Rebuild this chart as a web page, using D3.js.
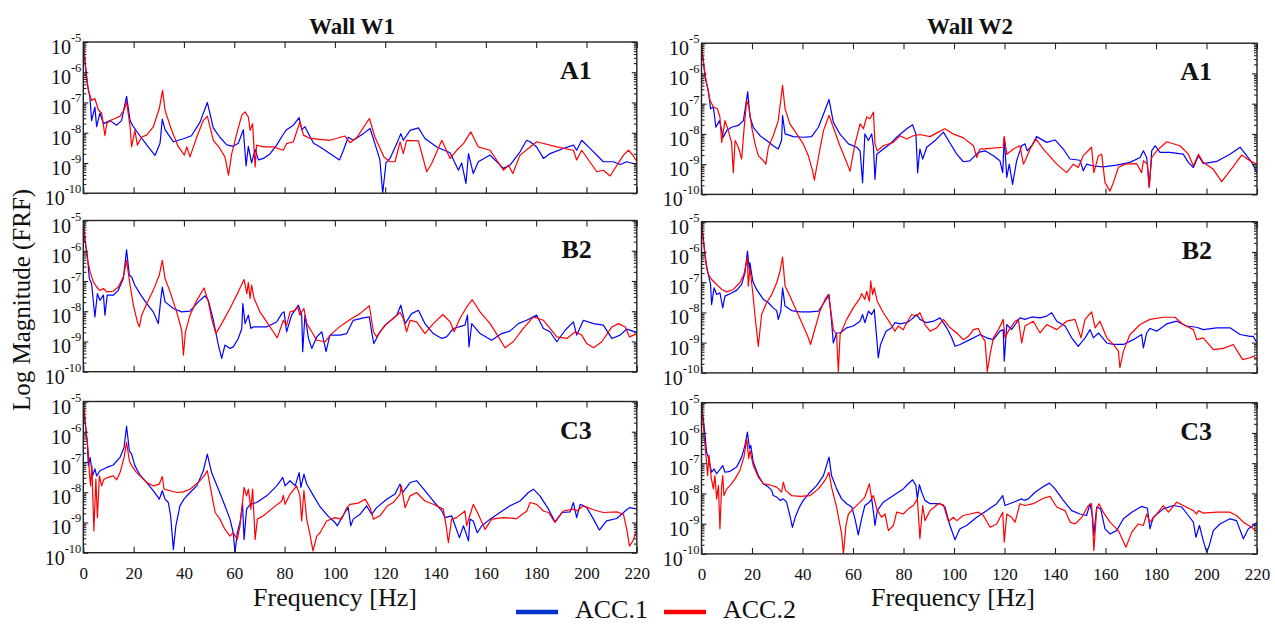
<!DOCTYPE html>
<html>
<head>
<meta charset="utf-8">
<script src="https://cdn.jsdelivr.net/npm/d3@7"></script>
<style>
  body { margin: 0; background: #fff; }
  text { font-family: "Liberation Serif", "Times New Roman", serif; fill: #111; }
</style>
</head>
<body>
<div id="chart"></div>
<script>
// ---- data : [frequency Hz, log10 |FRF|] ----
const walls = ['Wall W1', 'Wall W2'];
const points = ['A1', 'B2', 'C3'];
const seriesNames = ['ACC.1', 'ACC.2'];
const seriesColors = ['#0000ff', '#ff0000'];
const freqTicks = [0, 20, 40, 60, 80, 100, 120, 140, 160, 180, 200, 220];
const decades = [-10, -9, -8, -7, -6, -5];

const w1A1Acc1 = [[0,-5.05],[0.7,-5.7],[1.6,-6.4],[2.6,-6.8],[3.3,-7.6],[4.6,-7.15],[5.3,-7.8],[6.6,-7.35],[8,-7.7],[10.6,-7.6],[13.3,-7.75],[15.2,-7.6],[17.2,-6.8],[18.6,-7.6],[19.9,-7.8],[22.5,-8.1],[25.2,-8.4],[28.5,-8.75],[30.5,-8.35],[31.4,-7.55],[32.5,-7.9],[35.8,-8.3],[39.8,-8.2],[43,-8.1],[46.4,-7.65],[49.3,-7.0],[51.7,-7.85],[54.3,-8.15],[57,-8.4],[59.6,-8.45],[61.6,-8.35],[63.6,-7.9],[64.7,-9.1],[65.6,-8.45],[66.9,-9.0],[68.3,-8.55],[69.6,-8.9],[71.6,-8.85],[74.2,-8.7],[76.9,-8.4],[79.5,-8.05],[80.8,-7.9],[83.5,-7.75],[85.8,-7.5],[86.8,-7.9],[88.1,-7.8],[91.5,-8.35],[94.1,-8.47],[98,-8.69],[101.8,-8.9],[103.4,-8.58],[105.3,-8.15],[107.3,-8.25],[111.3,-8.03],[114,-7.86],[115.9,-8.36],[117.9,-8.9],[119,-10.0],[120.3,-9.0],[121.9,-8.85],[124.6,-8.36],[126.2,-8.03],[127.2,-8.25],[129.9,-7.92],[133.2,-7.84],[135.8,-8.19],[140.5,-8.47],[145.8,-8.66],[149.1,-9.24],[150.4,-9.0],[152.1,-9.68],[153.1,-8.69],[155,-9.35],[157,-8.96],[161.7,-8.74],[167,-9.18],[169.6,-9.07],[173.6,-8.63],[176.2,-8.25],[177.6,-8.3],[180.2,-8.47],[182.9,-8.85],[185.5,-8.69],[190.8,-8.52],[194.8,-8.41],[196.1,-8.58],[198.1,-8.25],[201.4,-8.52],[206.7,-8.96],[210.7,-8.96],[213.4,-9.05],[216,-8.96],[220,-9.05]];
const w1A1Acc2 = [[0,-5.0],[1.1,-5.95],[2,-6.6],[3.3,-6.93],[4.6,-6.87],[6,-7.25],[7.3,-7.35],[8.6,-8.1],[9.3,-7.7],[10.6,-7.6],[12.6,-7.53],[14.6,-7.45],[16.2,-7.25],[17.2,-6.98],[18.6,-7.8],[19.2,-8.47],[20.5,-7.92],[21.5,-8.41],[23.2,-8.14],[25.2,-8.08],[27.8,-7.81],[30.2,-7.2],[31.5,-6.6],[32.5,-7.26],[35.1,-7.92],[37.8,-8.47],[40.2,-8.74],[41.1,-8.47],[42.4,-8.8],[45.1,-8.14],[47.7,-7.59],[49.3,-7.45],[51.7,-8.25],[54.3,-8.52],[56.3,-8.8],[57.7,-9.4],[59,-8.69],[61,-8.03],[63,-7.42],[64.3,-7.31],[65.6,-7.48],[66.3,-7.92],[67.3,-7.7],[68.3,-9.13],[68.9,-8.41],[71.6,-8.47],[75.5,-8.47],[79.5,-8.58],[80.8,-8.36],[83.5,-8.3],[86.1,-7.64],[87.5,-8.08],[90.1,-8.19],[98,-8.25],[104,-8.11],[106,-8.33],[108.7,-8.16],[113.7,-7.53],[115.9,-8.14],[119.5,-8.8],[121.9,-8.96],[123.9,-8.96],[125.9,-8.3],[127.2,-8.69],[128.5,-8.25],[133.2,-8.27],[136.5,-9.29],[138.5,-9.01],[142.5,-8.25],[145.8,-8.85],[148.4,-8.58],[151.1,-8.36],[154,-7.97],[157,-8.47],[161.7,-8.58],[167,-9.24],[169,-9.07],[170.7,-9.35],[173.6,-8.74],[177.6,-8.47],[180.2,-8.3],[188.2,-8.47],[194.8,-8.58],[196.1,-8.9],[198.1,-8.58],[204.1,-9.29],[206.7,-9.24],[209.4,-9.43],[214.7,-8.74],[216.7,-8.58],[218.5,-8.75],[220,-8.95]];

const w2A1Acc1 = [[0,-5.22],[0.7,-5.56],[1.4,-6.11],[2.7,-6.56],[3.6,-7.17],[4.7,-7.11],[5.7,-7.78],[7.1,-7.56],[8.6,-8.11],[10,-7.89],[11.9,-7.78],[14.6,-7.72],[16.6,-7.56],[18.3,-6.61],[19.2,-7.44],[20.5,-7.78],[23.2,-8.06],[25.8,-8.22],[28.4,-8.39],[30.4,-8.5],[31.7,-8.22],[32.1,-7.39],[33.1,-8.0],[36.4,-8.09],[40.3,-8.11],[43.6,-8.09],[46.3,-7.78],[48.9,-7.22],[50.5,-6.86],[52.2,-7.61],[54.8,-8.0],[58.2,-8.33],[61.5,-8.44],[62.8,-8.56],[63.8,-9.61],[64.7,-8.0],[66.1,-8.22],[67.4,-8.0],[68.1,-8.44],[68.7,-9.5],[69.4,-8.67],[72,-8.5],[74.7,-8.33],[77.3,-8.11],[81.3,-7.83],[83.6,-7.7],[84.9,-8.0],[85.6,-9.28],[86.5,-8.5],[87.6,-8.83],[89.2,-8.44],[92.5,-8.22],[95.8,-7.94],[98.4,-8.3],[101.1,-8.67],[103.7,-8.92],[106.3,-8.89],[109.6,-8.61],[112.3,-8.56],[115.6,-8.72],[118.2,-8.89],[119.3,-9.28],[119.9,-8.11],[120.9,-9.44],[121.9,-9.0],[123.2,-9.67],[124.8,-8.89],[126.8,-8.39],[128.1,-8.33],[129,-8.56],[130.8,-8.39],[132.7,-8.09],[136.7,-8.28],[140,-8.2],[143.3,-8.5],[145.9,-8.83],[149.9,-8.87],[151.2,-9.22],[152.5,-9.0],[155.2,-9.06],[159.1,-9.09],[164.4,-9.03],[169.7,-8.94],[173.7,-8.78],[175,-8.56],[176.3,-8.78],[177.4,-9.72],[178.3,-8.56],[179.6,-8.39],[181.6,-8.61],[185.5,-8.61],[190.8,-8.67],[192.8,-8.94],[194.8,-9.11],[196.8,-8.72],[198.7,-8.98],[204,-8.91],[209.3,-8.67],[213.3,-8.44],[215.9,-8.72],[217.9,-8.94],[220,-9.28]];
const w2A1Acc2 = [[0,-5.0],[1,-5.78],[2,-6.33],[3.4,-6.89],[4.7,-7.11],[6.3,-7.17],[7.3,-7.44],[8,-8.28],[9.3,-7.56],[10.6,-7.89],[11.9,-8.28],[12.6,-9.28],[13.3,-8.22],[14.6,-8.44],[15.9,-8.83],[16.8,-7.89],[17.9,-6.89],[18.8,-7.11],[19.9,-7.78],[21.2,-8.33],[22.5,-8.72],[23.8,-8.83],[25.1,-8.94],[25.5,-9.0],[26.5,-8.44],[28.4,-8.06],[30.4,-7.56],[32.1,-6.39],[33.1,-7.17],[35,-7.67],[37.7,-8.0],[40.3,-8.33],[42.3,-8.72],[44,-9.22],[44.7,-9.53],[46.3,-8.78],[48.3,-7.89],[50.5,-7.39],[52.2,-7.78],[54.8,-8.39],[57.5,-8.94],[58.8,-9.24],[60.8,-8.33],[62.8,-7.67],[64.1,-7.83],[65.4,-7.44],[66.7,-7.5],[68.1,-7.28],[68.7,-8.33],[69.6,-8.56],[72,-8.39],[76,-8.28],[78.6,-8.06],[81.3,-8.17],[83.9,-8.06],[86.5,-8.02],[90.5,-8.09],[93.8,-7.94],[96.4,-7.83],[99.7,-8.0],[103.7,-8.13],[107.7,-8.39],[109,-8.78],[110.3,-8.5],[115.6,-8.47],[119.5,-8.44],[119.9,-8.09],[120.9,-8.67],[123.5,-8.5],[126.1,-8.39],[127.5,-9.0],[128.5,-8.83],[130.1,-8.5],[132.5,-8.17],[135.4,-8.5],[140.7,-9.0],[144.6,-9.28],[147.3,-9.0],[149.2,-9.11],[151.2,-8.72],[154.5,-8.44],[155.4,-9.28],[157.2,-8.72],[158.5,-8.67],[159.8,-9.61],[161.8,-9.89],[163.1,-9.61],[165.1,-9.11],[167.7,-9.0],[172.3,-8.98],[174.3,-9.28],[175,-8.89],[176.6,-9.0],[177.2,-9.78],[178.3,-8.78],[180.3,-8.56],[184.2,-8.26],[189.5,-8.39],[192.8,-8.67],[194.8,-9.06],[196.8,-8.67],[198.7,-8.94],[202.7,-9.17],[206,-9.58],[209.3,-9.22],[213.9,-8.7],[217.2,-8.89],[220,-9.0]];

const w1B2Acc1 = [[0,-5.05],[0.7,-5.71],[1.6,-6.15],[2.4,-6.92],[3.3,-7.09],[4.6,-8.19],[5.6,-7.42],[6.6,-7.64],[8,-7.47],[8.6,-8.13],[9.5,-7.47],[11.9,-7.47],[13.9,-7.31],[15.9,-6.92],[17.2,-5.97],[18.3,-6.81],[19.2,-6.87],[20.5,-7.14],[22.5,-7.42],[25.2,-7.75],[27.8,-8.02],[29.8,-8.41],[30.7,-7.69],[31.4,-7.2],[32.5,-7.69],[35.8,-7.91],[39.1,-8.02],[42.4,-8.0],[45.7,-7.69],[48.4,-7.49],[49.7,-7.64],[51.7,-8.3],[53.7,-9.12],[55,-9.56],[56.3,-9.12],[58.3,-9.23],[59.6,-9.18],[61.6,-8.9],[63,-8.57],[63.4,-7.75],[64.3,-8.41],[65.6,-8.13],[66.6,-8.57],[67.6,-8.52],[72.9,-8.52],[76.9,-8.35],[78.9,-8.08],[79.8,-8.02],[80.8,-8.68],[82.8,-8.13],[85.5,-7.8],[86.8,-8.13],[87.2,-9.34],[88.1,-8.13],[89.5,-8.9],[90.8,-9.23],[92.8,-8.85],[94.8,-8.68],[96.5,-9.34],[98,-8.79],[102,-8.79],[104.7,-8.74],[107.3,-8.3],[111.3,-8.22],[113.7,-8.19],[114.6,-8.68],[115.5,-9.07],[117.9,-8.68],[120.6,-8.41],[124.6,-8.13],[126.2,-7.8],[127.9,-8.41],[130.5,-8.08],[133.2,-7.97],[135.8,-8.41],[139.1,-8.74],[142.5,-8.9],[144.4,-8.85],[147.1,-8.57],[151.7,-8.46],[152.7,-8.13],[153.3,-9.18],[154.4,-8.41],[157.7,-8.74],[162.3,-8.96],[166.3,-8.74],[169.6,-8.66],[172.9,-8.41],[176.2,-8.3],[180.2,-8.13],[182.9,-8.57],[185.5,-8.68],[188.2,-9.01],[191.5,-8.63],[194.8,-8.35],[196.1,-8.79],[198.8,-8.3],[202.8,-8.41],[206.7,-8.46],[210.1,-8.9],[213.4,-8.79],[216,-8.59],[220,-8.7]];
const w1B2Acc2 = [[0,-5.0],[0.7,-5.6],[1.6,-6.26],[2.7,-6.7],[4,-7.03],[5.3,-7.2],[6.6,-7.31],[8,-7.25],[9.3,-7.36],[11.9,-7.34],[13.9,-7.2],[15.9,-6.87],[17.2,-6.32],[18.6,-7.14],[19.9,-7.8],[21.5,-8.35],[22.3,-8.52],[23.2,-8.13],[25.2,-7.75],[27.8,-7.31],[30.2,-6.81],[31.4,-6.32],[32.5,-6.92],[34.5,-7.36],[37.1,-8.02],[39.1,-8.63],[39.8,-9.45],[40.6,-8.68],[42.4,-8.13],[45.1,-7.64],[48,-7.23],[49.7,-7.69],[51,-8.24],[52.7,-8.74],[55,-8.41],[58.3,-7.91],[61.6,-7.36],[63.9,-6.95],[65,-7.42],[65.6,-7.05],[66.3,-7.58],[66.9,-7.14],[67.9,-7.58],[70.2,-8.02],[72.9,-8.35],[75.5,-8.68],[77.1,-8.88],[79.5,-8.3],[80.8,-8.46],[82.2,-8.02],[84.2,-7.97],[85.2,-7.86],[86.1,-8.13],[87.7,-7.91],[88.8,-8.41],[90.8,-8.68],[92.8,-8.96],[96.1,-9.01],[98.7,-8.74],[102.7,-8.46],[106.7,-8.24],[110,-8.08],[113.7,-7.82],[115.3,-8.68],[116.6,-8.85],[119.9,-8.46],[120.8,-8.41],[123.2,-8.24],[125.9,-8.04],[127.2,-8.24],[128.5,-8.68],[129.9,-8.3],[132.5,-8.35],[135.8,-8.74],[139.1,-8.41],[142.9,-8.11],[145.8,-8.35],[147.4,-8.68],[149.7,-8.24],[152.4,-7.86],[154.6,-7.62],[157.7,-8.02],[161.7,-8.41],[165,-8.85],[167.6,-9.21],[170.9,-9.01],[174.9,-8.57],[178.9,-8.19],[182.9,-8.3],[185.5,-8.57],[188.2,-8.85],[192.2,-8.9],[195.5,-8.68],[198.1,-8.79],[200.1,-9.07],[202.8,-9.21],[206.1,-9.01],[210.1,-8.52],[212.7,-8.41],[215.4,-8.52],[217.1,-8.85],[220,-8.75]];

const w2B2Acc1 = [[0,-5.03],[0.7,-5.53],[1.4,-6.08],[2,-6.52],[2.7,-6.74],[3.6,-7.08],[4,-7.74],[5,-7.19],[6,-7.41],[7.3,-7.35],[8.4,-7.85],[9.3,-7.46],[11.3,-7.38],[13.9,-7.27],[15.9,-7.07],[17.2,-6.69],[18.2,-5.97],[19,-6.63],[19.2,-6.36],[20.3,-6.96],[21.8,-7.24],[24.5,-7.57],[26.5,-7.68],[28.4,-7.85],[29.8,-7.94],[30.4,-8.23],[31.4,-7.96],[32.1,-7.19],[33.1,-7.79],[35.7,-7.94],[39,-7.98],[43,-7.98],[46.3,-7.96],[48.9,-7.63],[50.5,-7.41],[51.5,-8.29],[52.2,-9.01],[53.5,-8.68],[54.9,-8.68],[57.5,-8.51],[60.1,-8.45],[62.8,-8.29],[63.8,-8.07],[64.7,-8.34],[66.1,-7.96],[67.4,-8.07],[68.4,-7.9],[69.4,-8.84],[70,-9.5],[70.9,-9.06],[72,-8.84],[73.1,-8.62],[75.3,-8.51],[76.6,-8.34],[78.6,-8.38],[81.3,-8.34],[83.2,-8.23],[84.6,-8.12],[85.2,-8.07],[86.5,-8.23],[89.2,-8.34],[91.9,-8.29],[94.5,-8.18],[97.1,-8.51],[99.1,-8.84],[100.4,-9.12],[102.4,-9.06],[106.3,-8.9],[110.3,-8.73],[112.9,-8.84],[115.6,-8.9],[118.2,-8.62],[119.5,-8.57],[119.9,-9.61],[120.9,-8.4],[122.8,-8.57],[126.1,-8.18],[128.1,-8.23],[130.8,-8.15],[134.1,-8.18],[136.7,-8.12],[138.7,-8.01],[140.7,-8.29],[144,-8.45],[146.6,-8.84],[149.2,-9.12],[151.9,-8.84],[153.9,-8.57],[155.2,-8.84],[157.2,-8.68],[160.5,-9.01],[163.1,-9.06],[167.1,-9.06],[171,-8.9],[174.3,-8.73],[175,-9.17],[176.3,-8.68],[177.6,-8.53],[180.3,-8.62],[184.2,-8.38],[188.2,-8.29],[192.1,-8.45],[196.1,-8.49],[198.7,-8.57],[204,-8.51],[209.3,-8.51],[213.3,-8.73],[217.2,-8.79],[218.5,-8.79],[220,-9.01]];
const w2B2Acc2 = [[0,-5.0],[0.7,-5.64],[1.7,-6.3],[2.7,-6.74],[4,-6.91],[5.3,-7.02],[6.7,-7.13],[8,-7.24],[10,-7.32],[12.6,-7.24],[15.2,-7.02],[16.8,-6.74],[18.2,-6.19],[18.5,-7.13],[19.2,-6.52],[20.3,-7.35],[21.2,-8.12],[22.5,-9.12],[23.8,-8.07],[25.8,-7.68],[27.8,-7.41],[29.8,-7.02],[31.1,-6.63],[32.1,-6.17],[33.1,-7.13],[35,-7.46],[37.7,-7.96],[40.3,-8.45],[42.3,-8.84],[43.2,-9.06],[44.3,-8.73],[46.9,-7.96],[48.9,-7.57],[50.2,-7.41],[50.9,-7.74],[52.2,-8.57],[53.5,-8.73],[54.2,-9.95],[54.9,-8.73],[57.5,-8.23],[60.1,-7.85],[62.8,-7.52],[63.4,-7.38],[64.7,-7.57],[65.4,-7.3],[66.5,-7.63],[67,-6.96],[67.8,-7.41],[68.4,-7.19],[69.6,-7.63],[72,-8.01],[74.6,-8.34],[76.6,-8.62],[77.9,-8.45],[79.9,-8.57],[81.3,-8.34],[83.2,-8.07],[85.2,-8.12],[86.5,-8.01],[88.5,-8.4],[90.5,-8.62],[93.1,-8.51],[95.8,-8.23],[98.4,-8.5],[101.1,-8.68],[103.7,-8.9],[105.7,-8.79],[107.7,-8.57],[109.6,-8.53],[111,-8.79],[112.3,-8.95],[113.2,-9.95],[114.3,-9.39],[115.6,-8.84],[117.6,-8.57],[119.5,-8.23],[120.2,-8.84],[121.5,-8.62],[124.2,-8.29],[125.5,-8.23],[126.8,-9.01],[128.1,-8.45],[131.4,-8.29],[134.1,-8.68],[136.7,-8.4],[140.7,-8.57],[144.6,-8.29],[147.9,-8.23],[150.3,-8.84],[151.9,-8.23],[154.5,-7.98],[155.9,-8.51],[157.8,-8.29],[160.5,-8.84],[163.1,-9.06],[165.1,-9.28],[165.7,-9.83],[167.1,-9.28],[169.7,-8.73],[173.7,-8.4],[177.6,-8.23],[182.9,-8.16],[187.5,-8.16],[190.8,-8.4],[194.8,-8.57],[196.1,-8.9],[198.7,-8.84],[202.7,-9.23],[206.7,-9.19],[210.6,-9.06],[214.3,-9.56],[217.2,-9.5],[218.5,-9.45],[220,-9.56]];

const w1C3Acc1 = [[0,-5.08],[0.7,-5.69],[1.6,-6.35],[2,-7.12],[2.7,-6.85],[3.7,-7.46],[4.6,-7.23],[5.3,-7.46],[6.6,-7.29],[9.3,-7.18],[11.9,-7.1],[14.6,-6.85],[16.2,-6.52],[17.2,-5.82],[18.3,-6.63],[19.2,-6.74],[20.5,-7.12],[22.5,-7.43],[25.2,-7.68],[27.8,-7.95],[30.2,-8.23],[31.4,-7.95],[32.5,-8.23],[33.8,-8.34],[34.7,-8.78],[35.8,-9.89],[36.8,-9.11],[38.4,-8.45],[40,-8.23],[42.4,-8.01],[45.1,-7.79],[47.7,-7.29],[49.3,-6.74],[51,-7.35],[53.7,-7.9],[56.3,-8.45],[58.3,-8.89],[59.6,-9.34],[60.3,-10.0],[61.2,-9.34],[62.3,-9.0],[63.3,-8.4],[63.9,-9.56],[64.9,-8.56],[66.3,-8.4],[68.9,-8.34],[72.9,-8.12],[76.9,-7.79],[79.3,-7.51],[80.2,-7.79],[82.2,-7.62],[84.2,-7.79],[85.8,-7.35],[86.5,-7.84],[87.7,-7.4],[88.8,-7.73],[91.5,-8.12],[94.1,-8.48],[97.4,-8.8],[100,-9.0],[101,-9.11],[102.7,-8.84],[104,-8.67],[105.3,-8.51],[106.3,-9.11],[107.3,-8.89],[110,-8.73],[112.6,-8.45],[114.6,-8.73],[116.6,-8.51],[120.6,-8.23],[123.9,-8.06],[125.9,-7.73],[126.9,-8.01],[129.9,-7.68],[132.5,-7.62],[135.8,-7.95],[139.1,-8.29],[142.5,-8.62],[143.8,-8.84],[146.4,-8.78],[147.8,-9.11],[149.5,-9.5],[151.1,-9.11],[153.1,-9.61],[153.7,-8.89],[155,-8.95],[156.6,-9.34],[158.4,-9.11],[161.7,-8.89],[165.6,-8.67],[169.6,-8.45],[173.6,-8.29],[176.9,-8.01],[178.9,-7.9],[181.5,-8.12],[184.9,-8.56],[187.5,-8.98],[190.2,-8.67],[193.5,-8.65],[194.8,-8.34],[196.1,-8.84],[197.5,-8.4],[200.1,-8.51],[202.8,-8.89],[205.1,-9.25],[208,-8.95],[212,-8.87],[215.4,-8.62],[217.1,-8.51],[220,-8.55]];
const w1C3Acc2 = [[0,-5.0],[0.7,-5.58],[1.3,-6.13],[2,-6.68],[2.4,-7.35],[2.9,-7.79],[3.4,-7.12],[4.2,-9.28],[5,-7.57],[5.6,-8.84],[6.4,-7.46],[7.3,-7.79],[8.2,-7.57],[9.9,-7.51],[11.9,-7.46],[13.3,-7.59],[14.6,-7.35],[16.2,-6.85],[17.2,-6.35],[18.3,-6.96],[19.2,-7.12],[21.2,-7.35],[23.2,-7.51],[25.2,-7.68],[27.8,-7.79],[30.2,-7.73],[31.4,-7.48],[32.1,-7.9],[34.5,-7.95],[37.1,-8.01],[39.8,-7.99],[42.4,-7.9],[45.7,-7.68],[48,-7.46],[49.3,-7.29],[50.4,-7.79],[52.4,-8.67],[54.3,-8.89],[56.3,-9.23],[58.3,-9.45],[59.6,-9.34],[61.2,-9.56],[62.3,-9.11],[63.9,-7.84],[64.9,-8.12],[65.6,-7.9],[66.6,-8.56],[67.3,-7.9],[68.3,-9.56],[69.2,-8.89],[71.6,-8.78],[75.5,-8.51],[78.9,-8.29],[79.5,-8.1],[80.2,-8.4],[82.2,-8.06],[84.8,-7.79],[86.1,-8.12],[86.8,-8.95],[87.7,-7.95],[88.8,-8.89],[90.1,-9.4],[91.3,-9.94],[92.8,-9.45],[94.1,-9.34],[96.7,-8.95],[100,-8.84],[102.7,-8.89],[104.7,-8.51],[106,-8.4],[109.3,-8.36],[112,-8.23],[114,-8.51],[115.3,-8.89],[117.9,-8.78],[120.9,-8.45],[123.2,-8.34],[125.9,-8.06],[126.4,-7.79],[127.9,-8.51],[129.9,-8.12],[132.5,-8.01],[135.8,-8.29],[139.1,-8.4],[143.1,-8.56],[144.2,-9.11],[145.1,-9.67],[146.4,-8.89],[148.4,-8.84],[151.7,-8.62],[152.4,-9.11],[155,-8.4],[157,-8.73],[159.7,-9.23],[162.3,-8.89],[167,-8.84],[172.3,-8.87],[176.3,-8.62],[177.6,-8.34],[180.2,-8.4],[182.9,-8.62],[184.9,-8.67],[187.5,-9.0],[190.8,-8.62],[194.8,-8.56],[196.1,-8.62],[198.8,-8.45],[202.8,-8.58],[206.7,-8.67],[212,-8.65],[214.7,-8.73],[216,-9.23],[217.1,-9.78],[218.5,-9.6],[220,-9.25]];

const w2C3Acc1 = [[0,-5.03],[0.7,-5.53],[1.4,-6.08],[2,-6.63],[2.7,-6.8],[3.4,-7.08],[4,-7.3],[5,-7.19],[6,-7.35],[8.4,-7.08],[9.3,-7.3],[11.3,-7.27],[13.9,-7.13],[15.9,-6.8],[17.2,-6.41],[18.2,-5.97],[19,-6.52],[19.5,-6.41],[20.5,-6.96],[22.5,-7.41],[24.5,-7.68],[26.5,-7.79],[27.8,-7.9],[28.4,-8.07],[29.8,-8.12],[31.1,-8.23],[32.4,-8.18],[33.7,-8.29],[35,-8.73],[36,-9.12],[37.1,-8.79],[38.8,-8.45],[40.3,-8.23],[43,-7.96],[45.6,-7.74],[48.3,-7.41],[50.5,-6.8],[51.5,-7.41],[53.5,-7.85],[55.5,-8.18],[57.5,-8.34],[59.5,-8.45],[60.8,-8.84],[62.1,-9.37],[63.4,-8.84],[64.7,-8.4],[66.5,-8.29],[67.4,-8.18],[68.1,-8.62],[68.7,-9.06],[69.6,-8.57],[72,-8.29],[76,-8.07],[79.9,-7.85],[81.9,-7.68],[83.6,-7.55],[84.9,-7.74],[85.5,-8.18],[86.3,-7.71],[87.2,-7.96],[88.5,-8.23],[90.5,-8.34],[94.5,-8.34],[96.4,-8.45],[98.4,-9.06],[100.4,-9.53],[101.7,-9.28],[102.4,-9.17],[105,-9.06],[109,-8.79],[112.9,-8.57],[116.9,-8.34],[119.3,-8.07],[120.2,-8.4],[123.5,-8.29],[126.8,-8.18],[127.7,-8.23],[129.4,-8.18],[132.1,-7.96],[135.4,-7.77],[137.8,-7.66],[140,-7.85],[143.3,-8.23],[146.6,-8.57],[149.9,-8.68],[152.5,-8.73],[153.9,-8.34],[154.9,-8.79],[155.4,-9.39],[156.5,-8.45],[158.1,-8.51],[159.8,-9.17],[161.8,-9.34],[164.4,-9.23],[167.1,-8.84],[170.4,-8.62],[174.3,-8.43],[176.6,-8.49],[177.6,-9.17],[178.9,-8.79],[182.9,-8.51],[186.9,-8.4],[190.2,-8.45],[192.8,-8.73],[194.8,-8.95],[195.8,-9.45],[197.2,-9.06],[198.7,-9.56],[200.1,-9.95],[201.1,-9.72],[202.7,-9.23],[205.3,-9.01],[209.3,-8.84],[211.9,-8.9],[214.6,-9.5],[216.6,-9.17],[218.5,-9.06],[220,-8.95]];
const w2C3Acc2 = [[0,-5.03],[0.7,-5.75],[1.4,-6.41],[2,-6.96],[2.4,-7.41],[3,-6.74],[3.8,-7.46],[4.7,-7.85],[5.3,-7.41],[6,-8.18],[6.7,-7.74],[7.3,-9.17],[8,-7.74],[8.4,-7.41],[8.9,-8.07],[10,-7.85],[11.3,-7.74],[13.3,-7.52],[15.2,-7.24],[16.8,-6.8],[17.9,-6.19],[18.7,-6.85],[19.2,-6.58],[20.5,-7.08],[22.5,-7.46],[24.5,-7.68],[27.1,-7.72],[29.8,-7.79],[31.7,-7.96],[32.4,-7.63],[33.3,-7.9],[35.7,-8.07],[39,-8.1],[43,-8.07],[46.3,-7.85],[48.9,-7.57],[50.5,-7.3],[51.5,-7.79],[53.5,-8.45],[54.5,-8.9],[55.5,-9.34],[56.2,-10.0],[57.2,-9.06],[58.2,-8.68],[60.1,-8.51],[62.8,-8.29],[64.7,-8.12],[66.5,-7.68],[67.4,-8.18],[68.1,-8.07],[69.4,-8.51],[71.3,-8.79],[72.7,-8.68],[74,-9.23],[76,-9.06],[77.3,-8.62],[79.9,-8.68],[81.9,-8.51],[83.9,-8.4],[85.5,-8.18],[86.5,-9.5],[87.6,-8.4],[88.5,-8.9],[90.5,-8.57],[93.8,-8.34],[95.8,-8.38],[97.8,-8.93],[99.8,-8.79],[101.1,-8.9],[103.7,-8.73],[106.3,-8.68],[109.6,-8.62],[111.6,-8.73],[114.3,-9.12],[116.9,-9.01],[119.3,-8.62],[119.9,-9.61],[120.9,-8.68],[122.8,-8.79],[124.2,-8.95],[126.1,-8.34],[128.1,-8.4],[131.4,-8.34],[135.4,-8.16],[138,-8.1],[140.7,-8.45],[144,-8.57],[146,-8.95],[147.9,-9.01],[150.6,-8.79],[153.2,-8.4],[154.5,-8.34],[155.4,-9.89],[156.5,-8.51],[157.4,-8.34],[159.1,-8.62],[161.8,-8.95],[165.1,-9.23],[168.1,-9.78],[170.4,-9.28],[173,-9.01],[175,-9.06],[176.3,-8.68],[177.6,-8.95],[180.3,-8.68],[182.9,-8.4],[184.9,-8.62],[188.2,-8.29],[190.8,-8.4],[194.8,-8.57],[196.1,-8.68],[196.8,-8.57],[198.7,-8.65],[204,-8.62],[209.3,-8.62],[211.9,-8.73],[214.6,-8.95],[217.9,-9.12],[220,-9.28]];

const panelData = [
  [[w1A1Acc1, w1A1Acc2], [w1B2Acc1, w1B2Acc2], [w1C3Acc1, w1C3Acc2]],
  [[w2A1Acc1, w2A1Acc2], [w2B2Acc1, w2B2Acc2], [w2C3Acc1, w2C3Acc2]]
];

// ---- layout ----
const width = 1275, height = 625;
const colLeft = [83.3, 701.5], colWidth = [553.5, 555.5];
const rowTop = [42, 220.5, 401.5], plotH = 151.2;
const colDy = [0, 1.2];

const svg = d3.select('#chart').append('svg')
  .attr('width', width).attr('height', height)
  .attr('viewBox', '0 0 ' + width + ' ' + height);

const defs = svg.append('defs');

walls.forEach((wall, c) => {
  const w = colWidth[c];
  const x = d3.scaleLinear().domain([0, 220]).range([0, w]);

  points.forEach((pt, r) => {
    const top = rowTop[r] + colDy[c];
    const y = d3.scaleLog().domain([1e-10, 1e-5]).range([plotH, 0]);
    const g = svg.append('g').attr('transform', 'translate(' + colLeft[c] + ',' + top + ')');

    const clipId = 'clip' + c + r;
    defs.append('clipPath').attr('id', clipId)
      .append('rect').attr('width', w).attr('height', plotH);

    // curves
    const line = d3.line()
      .x(d => x(d[0]))
      .y(d => y(Math.pow(10, d[1])));
    const curves = g.append('g').attr('clip-path', 'url(#' + clipId + ')');
    panelData[c][r].forEach((series, s) => {
      curves.append('path')
        .datum(series)
        .attr('d', line)
        .attr('fill', 'none')
        .attr('stroke', seriesColors[s])
        .attr('stroke-width', 1.2)
        .attr('stroke-linejoin', 'round');
    });

    // axes (ticks pointing inward)
    const minor = y.ticks().filter(v => Math.abs(Math.log10(v) - Math.round(Math.log10(v))) > 1e-6);
    const major = decades.map(e => Math.pow(10, e));

    const drawAxis = (axis, tx, ty) => {
      const a = g.append('g').attr('transform', 'translate(' + tx + ',' + ty + ')').call(axis);
      a.select('.domain').remove();
      a.selectAll('line').attr('stroke', '#222').attr('stroke-width', 1.1);
      return a;
    };
    const bottom = drawAxis(d3.axisBottom(x).tickValues(freqTicks).tickSize(-6).tickPadding(14)
      .tickFormat(r === 2 ? d3.format('d') : ''), 0, plotH);
    bottom.selectAll('text').attr('font-size', 17).attr('fill', '#111')
      .attr('font-family', '"Liberation Serif", serif');
    drawAxis(d3.axisTop(x).tickValues(freqTicks).tickSize(-6).tickFormat(''), 0, 0);
    drawAxis(d3.axisLeft(y).tickValues(major).tickSize(-5).tickFormat(''), 0, 0);
    drawAxis(d3.axisLeft(y).tickValues(minor).tickSize(-3).tickFormat(''), 0, 0);
    drawAxis(d3.axisRight(y).tickValues(major).tickSize(-5).tickFormat(''), w, 0);
    drawAxis(d3.axisRight(y).tickValues(minor).tickSize(-3).tickFormat(''), w, 0);

    // decade labels 10^n
    decades.forEach(e => {
      const t = g.append('text')
        .attr('x', -2)
        .attr('y', y(Math.pow(10, e)) + 12)
        .attr('text-anchor', 'end')
        .attr('font-size', 20);
      t.append('tspan').text('10');
      t.append('tspan').attr('dy', -12).attr('font-size', 12.5).text(String(e));
    });

    // frame
    g.append('rect').attr('width', w).attr('height', plotH)
      .attr('fill', 'none').attr('stroke', '#222').attr('stroke-width', 1.4);

    // panel label
    g.append('text')
      .attr('x', w - 45).attr('y', 37)
      .attr('text-anchor', 'end')
      .attr('font-size', 26).attr('font-weight', 'bold')
      .text(pt);
  });

  // column title
  svg.append('text')
    .attr('x', [352, 970][c]).attr('y', 34)
    .attr('text-anchor', 'middle')
    .attr('font-size', 23).attr('font-weight', 'bold')
    .text(wall);

  // x axis title
  svg.append('text')
    .attr('x', [335, 953][c]).attr('y', 606)
    .attr('text-anchor', 'middle')
    .attr('font-size', 26)
    .text('Frequency [Hz]');
});

// y axis title
svg.append('text')
  .attr('transform', 'translate(30,300) rotate(-90)')
  .attr('text-anchor', 'middle')
  .attr('font-size', 25)
  .text('Log Magnitude (FRF)');

// legend
const legendX = [516, 664];
seriesNames.forEach((name, s) => {
  svg.append('line')
    .attr('x1', legendX[s]).attr('x2', legendX[s] + 42)
    .attr('y1', 612).attr('y2', 612)
    .attr('stroke', s === 0 ? '#0033cc' : seriesColors[s])
    .attr('stroke-width', 4.5);
  svg.append('text')
    .attr('x', legendX[s] + 59).attr('y', 618)
    .attr('font-size', 26)
    .text(name);
});
</script>
</body>
</html>
